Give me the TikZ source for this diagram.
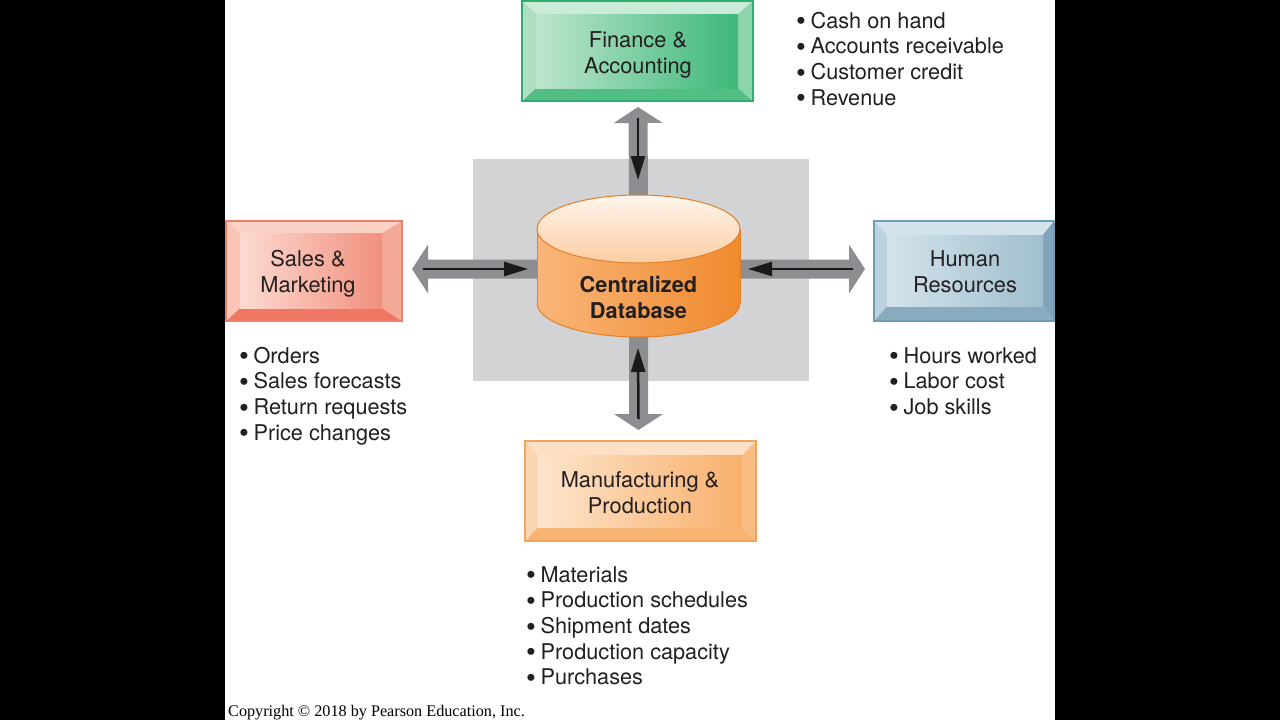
\documentclass[tikz,border=0pt]{standalone}
\usepackage{fontspec}
\setmainfont{TeX Gyre Heros}
\newfontfamily\copyfont{Liberation Serif}
\usetikzlibrary{calc,arrows.meta}
% colours
\definecolor{txt}{HTML}{231F20}
\definecolor{panel}{HTML}{D1D3D4}
\definecolor{garrowc}{HTML}{8C8E91}
\definecolor{barrowc}{HTML}{1A1A1A}
\definecolor{cylL}{HTML}{F9B67A}
\definecolor{cylR}{HTML}{F08A2E}
\definecolor{cylT1}{HTML}{FFF5EC}
\definecolor{cylT2}{HTML}{FBCDA3}
\definecolor{cylB}{HTML}{E27F26}
\definecolor{finBorder}{HTML}{2EAF6B}
\definecolor{finTop}{HTML}{C9EBD7}
\definecolor{finLeft}{HTML}{ADDFC0}
\definecolor{finRight}{HTML}{8ED4AB}
\definecolor{finBot}{HTML}{52BE84}
\definecolor{finInL}{HTML}{BDE5CD}
\definecolor{finInR}{HTML}{3DB879}
\definecolor{salBorder}{HTML}{EE7F6C}
\definecolor{salTop}{HTML}{FBD2C6}
\definecolor{salLeft}{HTML}{FAC4B6}
\definecolor{salRight}{HTML}{F4A898}
\definecolor{salBot}{HTML}{EF7763}
\definecolor{salInL}{HTML}{FCDAD1}
\definecolor{salInR}{HTML}{F1907E}
\definecolor{hrBorder}{HTML}{6E9CB6}
\definecolor{hrTop}{HTML}{D3E3EB}
\definecolor{hrLeft}{HTML}{BCD3DF}
\definecolor{hrRight}{HTML}{80A4B9}
\definecolor{hrBot}{HTML}{88ABC0}
\definecolor{hrInL}{HTML}{D3E3EA}
\definecolor{hrInR}{HTML}{A0BFCF}
\definecolor{mfBorder}{HTML}{F4A35A}
\definecolor{mfTop}{HTML}{FDE0C5}
\definecolor{mfLeft}{HTML}{FCD5B3}
\definecolor{mfRight}{HTML}{F9BD83}
\definecolor{mfBot}{HTML}{F7B473}
\definecolor{mfInL}{HTML}{FDE4CC}
\definecolor{mfInR}{HTML}{F8B06B}
% bevelled box: prefix, x1, y1, x2, y2, left, right, top, bottom insets
\newcommand\bevelbox[9]{%
  \fill[#1Top] (#2,#3) -- (#4,#3) -- ({#4-#7},{#3+#8}) -- ({#2+#6},{#3+#8}) -- cycle;
  \fill[#1Bot] (#2,#5) -- (#4,#5) -- ({#4-#7},{#5-#9}) -- ({#2+#6},{#5-#9}) -- cycle;
  \fill[#1Left] (#2,#3) -- ({#2+#6},{#3+#8}) -- ({#2+#6},{#5-#9}) -- (#2,#5) -- cycle;
  \fill[#1Right] (#4,#3) -- ({#4-#7},{#3+#8}) -- ({#4-#7},{#5-#9}) -- (#4,#5) -- cycle;
  \shade[left color=#1InL, right color=#1InR] ({#2+#6},{#3+#8}) rectangle ({#4-#7},{#5-#9});
}
% wide grey arrow from coordinate #1 to tip coordinate #2
\newcommand\gArrow[2]{%
  \path ($(#2)!16pt!(#1)$) coordinate (ga-h);
  \fill[garrowc] (#2) -- ($(ga-h)!24.5pt!90:(#1)$) -- ($(ga-h)!9.5pt!90:(#1)$)
    -- ($(#1)!9.5pt!-90:(#2)$) -- ($(#1)!9.5pt!90:(#2)$)
    -- ($(ga-h)!9.5pt!-90:(#1)$) -- ($(ga-h)!24.5pt!-90:(#1)$) -- cycle;
}
\newcommand\bul{\raisebox{-2.6pt}{\fontsize{28}{26}\selectfont\textbullet}\hspace{4.6pt}}
\tikzset{
  frame/.style={draw, line width=1.5pt, inner sep=0pt, outer sep=0pt, fill=none},
  boxlbl/.style={align=center, inner sep=0pt, text=txt, font=\fontsize{21.8}{26}\selectfont},
  item/.style={anchor=base west, inner sep=0pt, text=txt, font=\fontsize{21.7}{26}\selectfont},
  barrow/.style={draw=barrowc, line width=2.5pt, -{Triangle[width=14pt,length=24pt]}, barrowc},
}
\begin{document}
\begin{tikzpicture}[x=1pt,y=-1pt]
\useasboundingbox (0,0) rectangle (1280,720);
\fill[black] (0,0) rectangle (1280,720);
\fill[white] (225,0) rectangle (1055,720);
% grey panel
\fill[panel] (473,159) rectangle (809,381);

% node frames (positions)
\node[frame, draw=none, minimum width=231pt, minimum height=100pt] (fin) at (637.5,51) {};
\node[frame, draw=none, minimum width=176pt, minimum height=100pt] (sales) at (314,271) {};
\node[frame, draw=none, minimum width=180pt, minimum height=100pt] (hr) at (964,271) {};
\node[frame, draw=none, minimum width=231pt, minimum height=100pt] (mfg) at (640.5,491) {};
\node[inner sep=0pt, outer sep=0pt, minimum width=203pt, minimum height=142pt] (db) at (638.5,266) {};

% grey arrows
\coordinate (upS) at ($(db.north)+(0,12)$);
\coordinate (upT) at ($(fin.south)+(0.5,6)$);
\coordinate (dnS) at ($(db.south)+(0,-12)$);
\coordinate (dnT) at ($(mfg.north)+(-2,-11)$);
\coordinate (lfS) at ($(db.west)+(12,3)$);
\coordinate (lfT) at ($(sales.east)+(10,-2)$);
\coordinate (rtS) at ($(db.east)+(-12,3)$);
\coordinate (rtT) at ($(hr.west)+(-9,-2)$);
\gArrow{upS}{upT}
\gArrow{dnS}{dnT}
\gArrow{lfS}{lfT}
\gArrow{rtS}{rtT}

% cylinder
\shade[left color=cylL, right color=cylR] (537,229) rectangle (740,303);
\shade[left color=cylL, right color=cylR] (638.5,303) ellipse [x radius=101.5, y radius=34];
\draw[cylB, line width=1pt] (537,229) -- (537,303);
\draw[cylB, line width=1pt] (740,229) -- (740,303);
\begin{scope}
  \clip (530,303) rectangle (750,345);
  \draw[cylB, line width=1pt] (638.5,303) ellipse [x radius=101.5, y radius=34];
\end{scope}
\shadedraw[top color=cylT1, bottom color=cylT2, draw=cylB, line width=1pt] (638.5,229) ellipse [x radius=101.5, y radius=34];
\node[boxlbl, font=\fontsize{21.8}{26}\selectfont\bfseries] (dbT) at (638.5,297) {Centralized\\Database};

% black arrows
\draw[barrow] ($(fin.south)+(0.5,17)$) -- ($(db.north)+(-0.5,-15)$);
\draw[barrow] ($(mfg.north)+(-2,-22)$) -- ($(db.south)+(-0.5,11)$);
\draw[barrow] ($(sales.east)+(21,-2)$) -- ($(db.west)+(-9,3)$);
\draw[barrow] ($(hr.west)+(-21,-2)$) -- ($(db.east)+(8,3)$);

% boxes
\bevelbox{fin}{522}{1}{753}{101}{14}{15}{13}{13}
\bevelbox{sal}{226}{221}{402}{321}{14}{20}{12}{13}
\bevelbox{hr}{874}{221}{1054}{321}{13}{11}{14}{15}
\bevelbox{mf}{525}{441}{756}{541}{13}{14}{14}{14}
\draw[finBorder, line width=1.5pt] (fin.north west) rectangle (fin.south east);
\draw[salBorder, line width=1.5pt] (sales.north west) rectangle (sales.south east);
\draw[hrBorder, line width=1.5pt] (hr.north west) rectangle (hr.south east);
\draw[mfBorder, line width=1.5pt] (mfg.north west) rectangle (mfg.south east);
\node[boxlbl] (finT) at (638,55) {Finance \&\\Accounting};
\node[boxlbl] (salesT) at (308,274) {Sales \&\\Marketing};
\node[boxlbl] (hrT) at (965,272) {Human\\Resources};
\node[boxlbl] (mfgT) at (640,493) {Manufacturing \&\\Production};

% lists
\foreach \t [count=\i] in {Cash on hand, Accounts receivable, Customer credit, Revenue}
  \node[item] (finL\i) at (796,{28+25.7*(\i-1)}) {\bul\t};
\foreach \t [count=\i] in {Orders, Sales forecasts, Return requests, Price changes}
  \node[item] (salL\i) at (239,{363+25.7*(\i-1)}) {\bul\t};
\foreach \t [count=\i] in {Hours worked, Labor cost, Job skills}
  \node[item] (hrL\i) at (889,{363+25.7*(\i-1)}) {\bul\t};
\foreach \t [count=\i] in {Materials, Production schedules, Shipment dates, Production capacity, Purchases}
  \node[item] (mfL\i) at (526,{582+25.7*(\i-1)}) {\bul\t};

\node[item, font=\copyfont\fontsize{16.2}{18}\selectfont, text=black] (copy) at (228,716) {Copyright © 2018 by Pearson Education, Inc.};
\end{tikzpicture}
\end{document}
